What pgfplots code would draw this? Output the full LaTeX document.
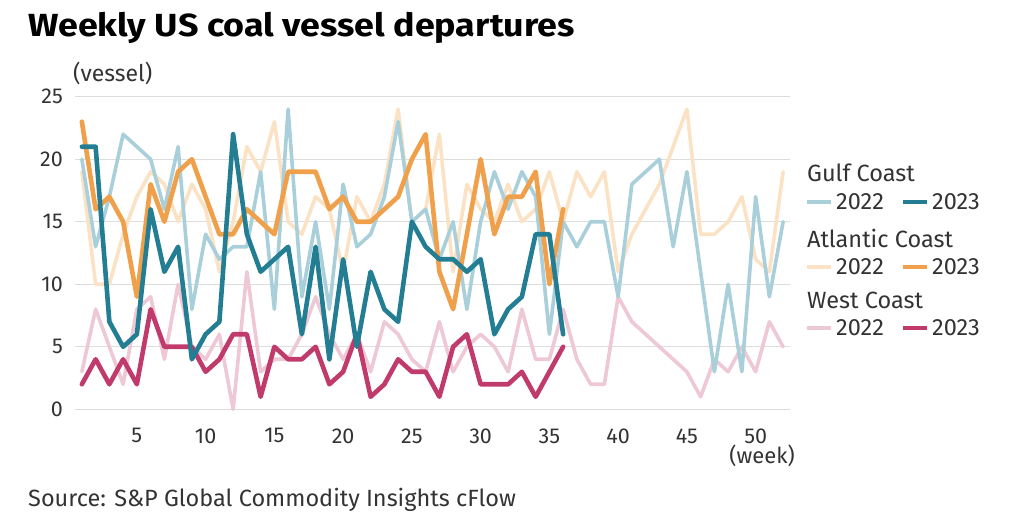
\documentclass[border=0pt]{standalone}
\usepackage{fontspec}
\setmainfont{Fira Sans}
\usepackage{pgfplots}
\pgfplotsset{compat=1.18}
\definecolor{gulfA}{HTML}{A9CFDA}
\definecolor{gulfB}{HTML}{237E94}
\definecolor{atlA}{HTML}{FBE2C5}
\definecolor{atlB}{HTML}{F0A04B}
\definecolor{westA}{HTML}{EEC9D5}
\definecolor{westB}{HTML}{C03A6B}
\definecolor{txt}{HTML}{333333}
\definecolor{gridc}{HTML}{DDDDDD}
\begin{document}
\begin{tikzpicture}[x=1pt,y=1pt]
\useasboundingbox (0,0) rectangle (1024,532);
\begin{axis}[at={(75pt,122.7pt)}, anchor=south west, scale only axis,
  width=715pt, height=312.6pt, xmin=0.5, xmax=52.5, ymin=0, ymax=25,
  clip=false, axis line style={draw=none}, major tick length=0pt,
  xtick={5,10,...,50}, ytick={0,5,...,25}, ymajorgrids,
  grid style={gridc, line width=1.2pt},
  tick label style={font=\fontsize{21.5}{21.5}\selectfont, text=txt},
  /pgf/number format/assume math mode=true,
  yticklabel style={anchor=east, inner sep=0pt, xshift=-12pt},
  xticklabel style={anchor=north, inner sep=0pt, yshift=-19pt},
  every axis plot/.append style={line join=round, line cap=round, mark=none}]
% Atlantic 2022
\addplot[atlA, line width=3.6pt] coordinates {(1,19)(2,10)(3,10)(4,14)(5,17)(6,19)(7,18)(8,15)(9,18)(10,16)(11,11)(12,15)(13,21)(14,19)(15,23)(16,15)(17,14)(18,17)(19,16)(20,11)(21,17)(22,15)(23,18)(24,24)(25,15)(26,16)(27,22)(28,11)(29,18)(30,16)(31,15)(32,18)(33,15)(34,16)(35,19)(36,15)(37,19)(38,17)(39,19)(40,11)(41,14)(42,16)(43,18)(44,21)(45,24)(46,14)(47,14)(48,15)(49,17)(50,12)(51,11)(52,19)};
% West 2022
\addplot[westA, line width=3.6pt] coordinates {(1,3)(2,8)(3,5)(4,2)(5,8)(6,9)(7,4)(8,10)(9,5)(10,4)(11,6)(12,0)(13,11)(14,3)(15,4)(16,4)(17,6)(18,9)(19,6)(20,4)(21,6)(22,3)(23,7)(24,6)(25,4)(26,3)(27,7)(28,3)(29,5)(30,6)(31,5)(32,3)(33,8)(34,4)(35,4)(36,8)(37,4)(38,2)(39,2)(40,9)(41,7)(42,6)(43,5)(44,4)(45,3)(46,1)(47,4)(48,3)(49,5)(50,3)(51,7)(52,5)};
% Gulf 2022
\addplot[gulfA, line width=3.6pt] coordinates {(1,20)(2,13)(3,17)(4,22)(5,21)(6,20)(7,16)(8,21)(9,8)(10,14)(11,12)(12,13)(13,13)(14,19)(15,8)(16,24)(17,9)(18,15)(19,8)(20,18)(21,13)(22,14)(23,17)(24,23)(25,15)(26,16)(27,12)(28,15)(29,8)(30,15)(31,19)(32,16)(33,19)(34,17)(35,6)(36,15)(37,13)(38,15)(39,15)(40,9)(41,18)(42,19)(43,20)(44,13)(45,19)(46,11)(47,3)(48,10)(49,3)(50,17)(51,9)(52,15)};
% West 2023
\addplot[westB, line width=4.6pt] coordinates {(1,2)(2,4)(3,2)(4,4)(5,2)(6,8)(7,5)(8,5)(9,5)(10,3)(11,4)(12,6)(13,6)(14,1)(15,5)(16,4)(17,4)(18,5)(19,2)(20,3)(21,6)(22,1)(23,2)(24,4)(25,3)(26,3)(27,1)(28,5)(29,6)(30,2)(31,2)(32,2)(33,3)(34,1)(35,3)(36,5)};
% Atlantic 2023
\addplot[atlB, line width=4.6pt] coordinates {(1,23)(2,16)(3,17)(4,15)(5,9)(6,18)(7,15)(8,19)(9,20)(10,17)(11,14)(12,14)(13,16)(14,15)(15,14)(16,19)(17,19)(18,19)(19,16)(20,17)(21,15)(22,15)(23,16)(24,17)(25,20)(26,22)(27,11)(28,8)(29,14)(30,20)(31,14)(32,17)(33,17)(34,19)(35,10)(36,16)};
% Gulf 2023
\addplot[gulfB, line width=4.6pt] coordinates {(1,21)(2,21)(3,7)(4,5)(5,6)(6,16)(7,11)(8,13)(9,4)(10,6)(11,7)(12,22)(13,14)(14,11)(15,12)(16,13)(17,6)(18,13)(19,4)(20,12)(21,5)(22,11)(23,8)(24,7)(25,15)(26,13)(27,12)(28,12)(29,11)(30,12)(31,6)(32,8)(33,9)(34,14)(35,14)(36,6)};
\end{axis}
% titles and notes
\node[anchor=base west, inner sep=0pt, font=\fontsize{32}{32}\selectfont\bfseries, text=black] at (28,495) {\scalebox{1.12}[1]{Weekly US coal vessel departures}};
\node[anchor=base west, inner sep=0pt, font=\fontsize{23}{23}\selectfont, text=txt] at (73,450) {(vessel)};
\node[anchor=base, inner sep=0pt, font=\fontsize{22}{22}\selectfont, text=txt] at (762,68) {(week)};
\node[anchor=base west, inner sep=0pt, font=\fontsize{23.5}{23.5}\selectfont, text=txt] at (28,25) {Source: S\&P Global Commodity Insights cFlow};
% legend
\begin{scope}[every node/.style={anchor=base west, inner sep=0pt, font=\fontsize{23.5}{23.5}\selectfont, text=txt}]
\node at (807,350) {Gulf Coast};
\draw[gulfA, line width=4pt] (807,330.3) -- (831,330.3);
\node at (836,322.5) {2022};
\draw[gulfB, line width=4pt] (903,330.3) -- (927,330.3);
\node at (932,322.5) {2023};
\node at (807,284.7) {Atlantic Coast};
\draw[atlA, line width=4pt] (807,265.3) -- (831,265.3);
\node at (836,257.5) {2022};
\draw[atlB, line width=4pt] (903,265.3) -- (927,265.3);
\node at (932,257.5) {2023};
\node at (807,223) {West Coast};
\draw[westA, line width=4pt] (807,203.7) -- (831,203.7);
\node at (836,196) {2022};
\draw[westB, line width=4pt] (903,203.7) -- (927,203.7);
\node at (932,196) {2023};
\end{scope}
\end{tikzpicture}
\end{document}
